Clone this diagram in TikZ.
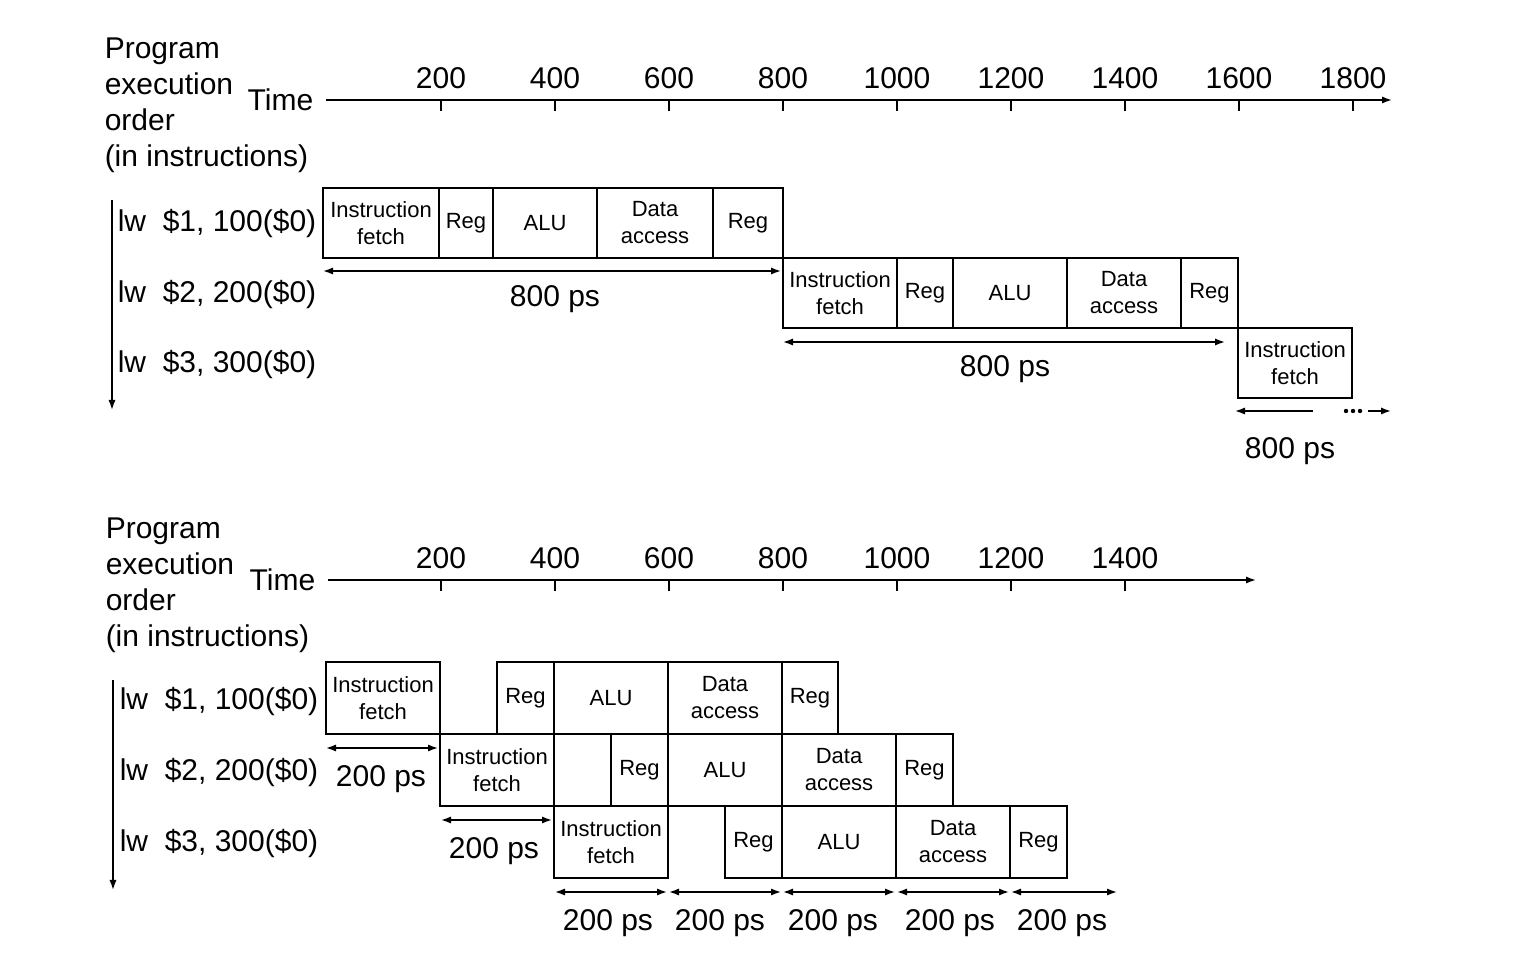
\documentclass[tikz,border=0pt]{standalone}
\usepackage{fontspec}
\setmainfont{Liberation Sans}
\usetikzlibrary{arrows.meta}
\usetikzlibrary{positioning}

\tikzset{
  stage/.style={draw, align=center, inner sep=0pt, outer sep=0pt,
    anchor=north west, font=\fontsize{11pt}{13.5pt}\selectfont},
  biglabel/.style={inner sep=0pt, font=\fontsize{15pt}{18pt}\selectfont},
}

\begin{document}
\begin{tikzpicture}[x=0.5pt, y=-0.5pt, line width=0.75pt,
    >={Latex[length=5pt,width=3.6pt]}]
  \useasboundingbox (0,0) rectangle (1528,967);

  %% ---------- single-cycle ----------
  \coordinate (T0) at (326,100);
  \coordinate (T1) at (1392,100);
  \draw[->] (T0) -- (T1);
  \foreach \k in {1,...,9}{%
    \pgfmathtruncatemacro{\ps}{200*\k}
    \draw (327+114*\k,100) -- (327+114*\k,111);
    \node[biglabel, anchor=base] (tA\k) at (327+114*\k,89) {\ps};
  }

  \node[biglabel, anchor=north west, align=left] (progA) at (104,37)
    {Program\\execution\\order\\(in instructions)};
  \node[biglabel, anchor=base east] (timeA) at (314,111) {Time};

  \coordinate (OA0) at (112,200);
  \coordinate (OA1) at (112,410);
  \draw[->] (OA0) -- (OA1);

  \node[biglabel, anchor=base east] (lwA1) at (317,232) {lw\ \ \$1, 100(\$0)};
  \node[biglabel, anchor=base east] (lwA2) at (317,303) {lw\ \ \$2, 200(\$0)};
  \node[biglabel, anchor=base east] (lwA3) at (317,373) {lw\ \ \$3, 300(\$0)};

  \foreach \nm/\xa/\xb/\ya/\txt in {%
    a1/323/439/188/{Instruction\\fetch}, a2/439/493/188/Reg,
    a3/493/597/188/ALU, a4/597/713/188/{Data\\access}, a5/713/783/188/Reg,
    b1/783/897/258/{Instruction\\fetch}, b2/897/953/258/Reg,
    b3/953/1067/258/ALU, b4/1067/1181/258/{Data\\access}, b5/1181/1238/258/Reg,
    c1/1238/1352/328/{Instruction\\fetch}}
    \node[stage, minimum width={(\xb-\xa)*0.5pt}, minimum height=35pt]
      (\nm) at (\xa,\ya) {\txt};

  \coordinate (sA1) at (323,271);
  \coordinate (sA2) at (781,271);
  \draw[<->] (sA1) -- (sA2);
  \node[biglabel, anchor=base] (dA1) at (555,307) {800 ps};

  \coordinate (sB1) at (783,342);
  \coordinate (sB2) at (1225,342);
  \draw[<->] (sB1) -- (sB2);
  \node[biglabel, anchor=base] (dA2) at (1005,377) {800 ps};

  \coordinate (sC1) at (1313,411);
  \coordinate (sC2) at (1235,411);
  \coordinate (sC3) at (1368,411);
  \coordinate (sC4) at (1391,411);
  \draw[->] (sC1) -- (sC2);
  \draw[->] (sC3) -- (sC4);
  \foreach \x in {1346,1353,1360}
    \fill (\x,411) circle (2.2);
  \node[biglabel, anchor=base] (dA3) at (1290,459) {800 ps};

  %% ---------- pipelined ----------
  \coordinate (U0) at (328,580);
  \coordinate (U1) at (1256,580);
  \draw[->] (U0) -- (U1);
  \foreach \k in {1,...,7}{%
    \pgfmathtruncatemacro{\ps}{200*\k}
    \draw (327+114*\k,580) -- (327+114*\k,591);
    \node[biglabel, anchor=base] (tB\k) at (327+114*\k,569) {\ps};
  }

  \node[biglabel, anchor=north west, align=left] (progB) at (105,517)
    {Program\\execution\\order\\(in instructions)};
  \node[biglabel, anchor=base east] (timeB) at (316,591) {Time};

  \coordinate (OB0) at (113,680);
  \coordinate (OB1) at (113,890);
  \draw[->] (OB0) -- (OB1);

  \node[biglabel, anchor=base east] (lwB1) at (319,710) {lw\ \ \$1, 100(\$0)};
  \node[biglabel, anchor=base east] (lwB2) at (319,781) {lw\ \ \$2, 200(\$0)};
  \node[biglabel, anchor=base east] (lwB3) at (319,852) {lw\ \ \$3, 300(\$0)};

  \foreach \nm/\xa/\xb/\ya/\txt in {%
    p1/326/440/662/{Instruction\\fetch}, p2/497/554/662/Reg,
    p3/554/668/662/ALU, p4/668/782/662/{Data\\access}, p5/782/838/662/Reg,
    q1/440/554/734/{Instruction\\fetch}, q2/611/668/734/Reg,
    q3/668/782/734/ALU, q4/782/896/734/{Data\\access}, q5/896/953/734/Reg,
    r1/554/668/806/{Instruction\\fetch}, r2/725/782/806/Reg,
    r3/782/896/806/ALU, r4/896/1010/806/{Data\\access}, r5/1010/1067/806/Reg}
    \node[stage, minimum width={(\xb-\xa)*0.5pt}, minimum height=36pt]
      (\nm) at (\xa,\ya) {\txt};

  \coordinate (uA1) at (326,748);
  \coordinate (uA2) at (438,748);
  \draw[<->] (uA1) -- (uA2);
  \node[biglabel, anchor=base] (eA1) at (381,787) {200 ps};

  \coordinate (uB1) at (441,820);
  \coordinate (uB2) at (552,820);
  \draw[<->] (uB1) -- (uB2);
  \node[biglabel, anchor=base] (eA2) at (494,859) {200 ps};

  \foreach \i/\xa/\xb/\xm in {1/555/667/608, 2/669/781/720, 3/783/895/833,
                               4/897/1009/950, 5/1011/1117/1062}{%
    \coordinate (wL\i) at (\xa,892);
    \coordinate (wR\i) at (\xb,892);
    \draw[<->] (wL\i) -- (wR\i);
    \node[biglabel, anchor=base] (eB\i) at (\xm,931) {200 ps};
  }
\end{tikzpicture}
\end{document}
